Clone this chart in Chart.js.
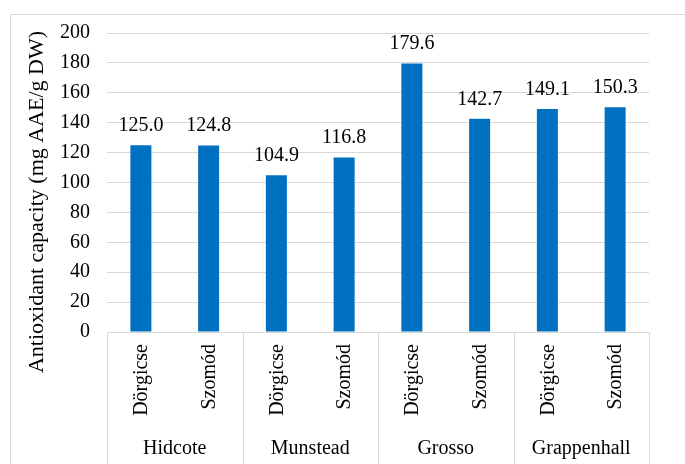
<!DOCTYPE html>
<html>
<head>
<meta charset="utf-8">
<script src="https://cdn.jsdelivr.net/npm/chart.js@4/dist/chart.umd.min.js"></script>
<style>
  html, body { margin: 0; padding: 0; background: #fff; }
  #wrap { position: relative; width: 685px; height: 464px; }
</style>
</head>
<body>
<div id="wrap"><canvas id="chart"></canvas></div>
<script>
// lavender varieties, two growing sites each
const VARIETIES = ['Hidcote', 'Munstead', 'Grosso', 'Grappenhall'];
const SITES = ['Dörgicse', 'Szomód'];
// antioxidant capacity, mg AAE/g DW, in variety/site order
const CAPACITY = [125.0, 124.8, 104.9, 116.8, 179.6, 142.7, 149.1, 150.3];
const Y_MIN = 0, Y_MAX = 200, Y_STEP = 20;
const Y_TITLE = 'Antioxidant capacity (mg AAE/g DW)';

const FONT = '"Liberation Serif", "Times New Roman", serif';
const GRID = '#d9d9d9';
const BAR = '#0070c0';

const labels = [];
VARIETIES.forEach(v => SITES.forEach(s => labels.push([s, v])));

// draws the two-level category axis, value labels, axis title and frame
const decorations = {
  id: 'decorations',
  afterDraw(chart) {
    const ctx = chart.ctx;
    const x = chart.scales.x;
    const area = chart.chartArea;
    const H = chart.height;
    const step = (area.right - area.left) / labels.length;

    ctx.save();

    // outer frame
    ctx.strokeStyle = GRID;
    ctx.lineWidth = 1;
    ctx.beginPath();
    ctx.moveTo(10.5, H);
    ctx.lineTo(10.5, 14.5);
    ctx.lineTo(chart.width, 14.5);
    ctx.stroke();

    // group separators below the axis
    ctx.beginPath();
    for (let g = 0; g <= VARIETIES.length; g++) {
      const px = Math.round(area.left + g * SITES.length * step) + 0.5;
      ctx.moveTo(px, area.bottom);
      ctx.lineTo(px, H);
    }
    ctx.stroke();

    ctx.fillStyle = '#000';
    ctx.font = '20px ' + FONT;

    // site labels, rotated
    labels.forEach((l, i) => {
      const px = x.getPixelForValue(i) + 1;
      ctx.save();
      ctx.translate(px, area.bottom + 12);
      ctx.rotate(-Math.PI / 2);
      ctx.textAlign = 'right';
      ctx.textBaseline = 'middle';
      ctx.fillText(l[0], 0, 0);
      ctx.restore();
    });

    // variety labels
    ctx.textAlign = 'center';
    ctx.textBaseline = 'middle';
    VARIETIES.forEach((v, g) => {
      const px = area.left + (g + 0.5) * SITES.length * step;
      ctx.fillText(v, px, 449);
    });

    // value labels above bars
    const meta = chart.getDatasetMeta(0);
    ctx.textBaseline = 'alphabetic';
    meta.data.forEach((bar, i) => {
      ctx.fillText(CAPACITY[i].toFixed(1), bar.x, bar.y - 14);
    });

    // y axis title
    ctx.save();
    ctx.translate(37, 202);
    ctx.rotate(-Math.PI / 2);
    ctx.font = '22px ' + FONT;
    ctx.textAlign = 'center';
    ctx.textBaseline = 'middle';
    ctx.fillText(Y_TITLE, 0, 0);
    ctx.restore();

    ctx.restore();
  }
};

new Chart(document.getElementById('chart'), {
  type: 'bar',
  data: {
    labels: labels,
    datasets: [{
      data: CAPACITY,
      backgroundColor: BAR,
      barPercentage: 0.31,
      categoryPercentage: 1
    }]
  },
  options: {
    responsive: true,
    maintainAspectRatio: false,
    animation: false,
    layout: { padding: { left: 0, top: 33, right: 36, bottom: 132 } },
    plugins: {
      legend: { display: false },
      tooltip: { enabled: false }
    },
    scales: {
      x: { display: false },
      y: {
        min: Y_MIN,
        max: Y_MAX,
        afterFit(scale) { scale.width = 107; },
        grid: { color: GRID, drawTicks: false },
        border: { display: false },
        ticks: {
          stepSize: Y_STEP,
          padding: 17,
          color: '#000',
          font: { family: FONT, size: 20 }
        }
      }
    }
  },
  plugins: [decorations]
});
</script>
</body>
</html>
